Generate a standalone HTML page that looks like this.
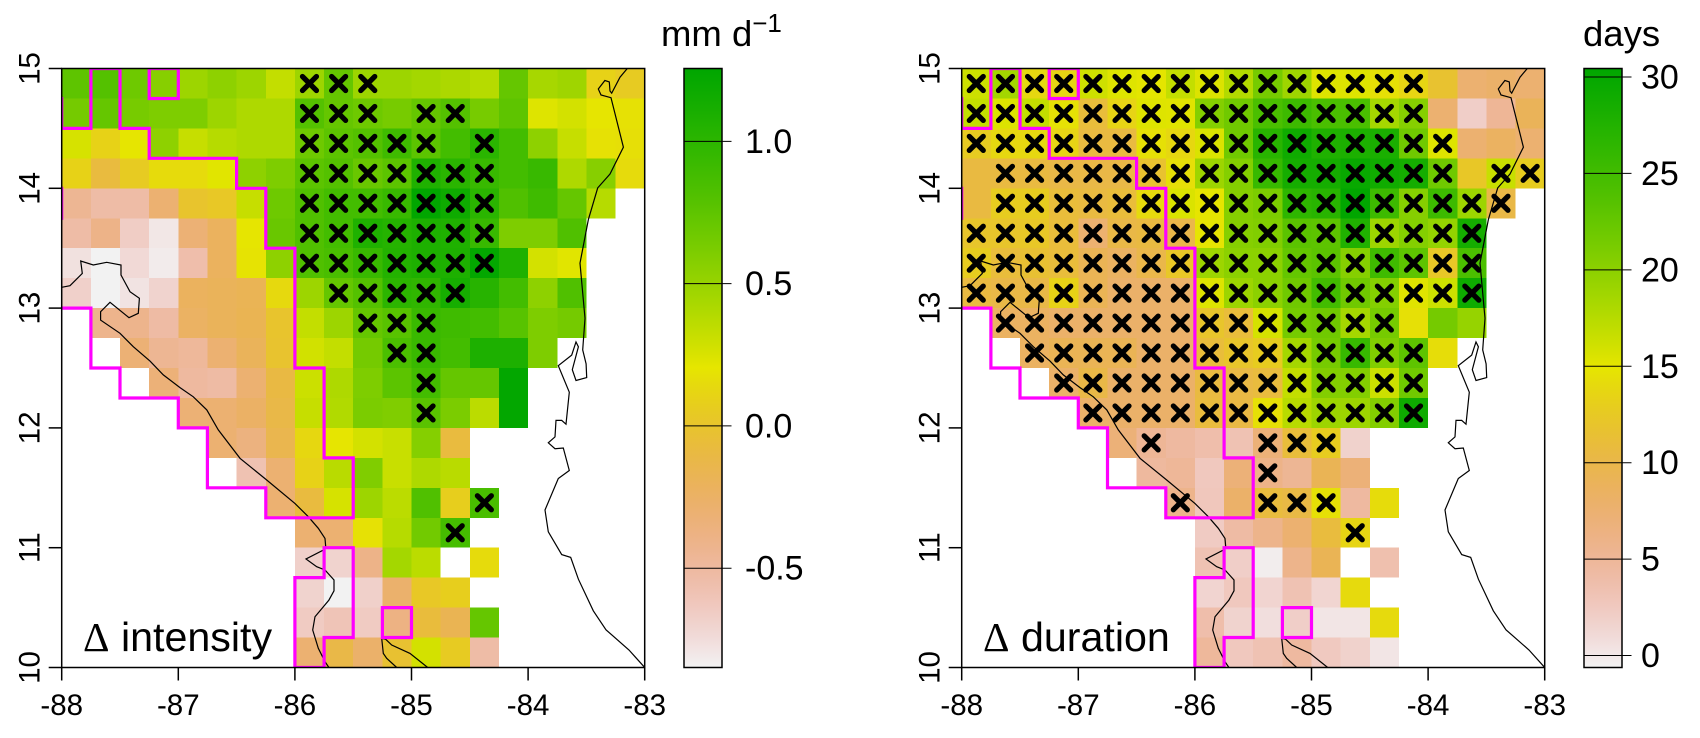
<!DOCTYPE html>
<html lang="en">
<head>
<meta charset="utf-8">
<title>Change in intensity and duration</title>
<style>
html,body{margin:0;padding:0;background:#fff;}
#figure{display:block;width:1700px;height:738px;font-family:"Liberation Sans",Arial,sans-serif;}
</style>
</head>
<body>
<svg id="figure" xmlns="http://www.w3.org/2000/svg" width="1700" height="738" viewBox="0 0 1700 738">
  <defs>
    <clipPath id="clip-left"><rect x="61.7" y="68.5" width="583" height="599"/></clipPath>
    <clipPath id="clip-right"><rect x="961.7" y="68.5" width="583" height="599"/></clipPath>
  </defs>
  <g id="panel-left"></g>
  <g id="panel-right"></g>
  <text x="661" y="46" font-size="36.5" fill="#000">mm d<tspan font-size="26" dy="-14">−1</tspan></text>
  <text x="1583" y="46" font-size="36.5" fill="#000">days</text>
  <text x="83" y="651" font-size="41.2" fill="#000"><tspan font-family="'Liberation Serif',serif">Δ</tspan> intensity</text>
  <text x="983" y="651" font-size="41.2" fill="#000"><tspan font-family="'Liberation Serif',serif">Δ</tspan> duration</text>
</svg>
<script>
const _ = null;
const xTickValues = [-88, -87, -86, -85, -84, -83];
const yTickValues = [10, 11, 12, 13, 14, 15];
const intensityTicks = [-0.5, 0.0, 0.5, 1.0];
const intensityTickLabels = ['-0.5', '0.0', '0.5', '1.0'];
const durationTicks = [0, 5, 10, 15, 20, 25, 30];
const durationTickLabels = ['0', '5', '10', '15', '20', '25', '30'];
const intensityRange = [-0.849, 1.256];
const durationRange = [-0.62, 30.44];
const lonOrigin = -88;
const latOrigin = 15;
const cellDegrees = 0.25;

const intensityValues = [
[.75,.8,.68,.57,.48,.54,.48,.33,.48,.72,.48,.48,.45,.42,.38,.72,.44,.47,.1,.05],
[.65,.72,.64,.61,.61,.48,.41,.41,.8,.72,.68,.64,.72,.8,.64,.75,.23,.27,.2,.18],
[.26,.1,.2,.54,.32,.38,.41,.41,.68,.76,.8,.9,.76,.88,1.01,.88,.54,.32,.18,.17],
[.1,-.08,.05,.15,.15,.22,.54,.61,.76,.8,.7,.76,1.07,1.01,.94,.88,.94,.41,.57,.15],
[-.45,-.53,-.53,-.3,0,.03,.32,.68,.82,.88,.88,.94,1.25,1.17,1.01,.82,.9,.72,.38],
[-.53,-.4,-.66,-.8,-.32,-.22,.2,.7,.82,.88,1.07,1.04,1.08,1.07,.94,.61,.61,.82],
[-.77,-.85,-.73,-.82,-.55,-.22,.19,.54,.82,.85,.94,1.05,1.08,1.08,1.24,1.07,.27,.22],
[-.68,-.85,-.78,-.7,-.22,-.2,-.18,.14,.48,.72,.8,1,.98,1.12,1.03,.88,.54,.82],
[_,-.42,-.42,-.52,-.24,-.2,-.17,0,.33,.48,.72,.78,.93,.9,.88,.78,.61,.65],
[_,_,-.32,-.45,-.48,-.3,-.2,-.01,.28,.33,.65,.84,.93,.88,1.08,1.08,.61],
[_,_,_,-.33,-.5,-.52,-.3,-.1,.3,.41,.61,.76,.88,.72,.72,1.24],
[_,_,_,_,-.32,-.3,-.25,-.12,.32,.4,.62,.6,.77,.62,.36,1.24],
[_,_,_,_,_,-.3,-.36,-.15,.13,.2,.27,.31,.58,-.08],
[_,_,_,_,_,_,-.58,-.3,.1,.37,.6,.31,.41,.37],
[_,_,_,_,_,_,_,-.3,-.08,.26,.48,.36,.82,.07,.85],
[_,_,_,_,_,_,_,_,-.3,-.3,.18,.38,.66,.87],
[_,_,_,_,_,_,_,_,-.68,-.7,-.4,.45,.36,_,.15],
[_,_,_,_,_,_,_,_,-.7,-.85,-.68,-.28,.03,.07],
[_,_,_,_,_,_,_,_,-.65,-.6,-.65,-.38,-.07,-.17,.72],
[_,_,_,_,_,_,_,_,-.3,-.12,-.27,-.02,.27,.05,-.53]
];

const durationValues = [
[16.3,18.6,13.8,13.6,16.2,15.3,15,16.8,15.4,17.7,21.4,18.9,15.3,15.3,14.5,13.6,11.7,7.5,8,7.5],
[16.8,15.4,16.8,14.6,11,13.5,15.3,15.2,20.5,21.8,24.4,25.4,24.4,24.4,18.5,20.4,7.5,2,5.1,9],
[12.7,13.8,13.8,13.5,10.6,10.6,14.5,13.8,15.5,21.8,27,29.1,27.7,28,28.1,21.8,15.3,7.5,8.5,7.5],
[10.6,10.6,10.6,10.2,10.2,10.2,11.7,14.4,19,20.5,25.8,28.6,28.6,29.7,29,28.6,21.8,12.3,16.5,12.8],
[10.6,12.8,12.8,11,10.6,11,14,15.5,14.9,20.4,21,26.5,27,30.3,25.4,20.4,25.4,19,10.2],
[12,12,12.3,11,7.5,10.2,10.6,10,14.8,20.4,20.7,23.2,23.1,27.6,19,20.5,19.5,28.6],
[12.8,11,11.5,11,9.3,8.5,10,12.3,19,20,20,22.6,23.2,20.4,25.2,23,12.3,24.3],
[10.6,10.2,10.2,13.4,9.3,8,8,8,15.3,19,20,21.8,25,21.8,20.5,15.2,16.3,29.2],
[_,8.5,8.5,8,8,8,8,8,12,11,15.8,21.4,21.8,18.5,21.4,14.5,21.5,19.4],
[_,_,8.5,9.3,9.3,9.3,8,8,11,12,12.8,18.5,21.4,25.8,20.7,23,14.3],
[_,_,_,8,10.2,8,8,8,10.6,10.3,10.8,16.8,20.6,20.6,16.3,21.8],
[_,_,_,_,8,8,8,8,10.8,10.4,14.5,17.4,19,19,20.6,29.2],
[_,_,_,_,_,7,5.1,4.5,3.8,3.3,7,11,12.8,1.7],
[_,_,_,_,_,_,4.6,5,2.6,7,6,5.2,9.3,7],
[_,_,_,_,_,_,_,5.8,2.7,8,10.8,10.3,14.5,4.5,14.2],
[_,_,_,_,_,_,_,_,2.3,4.2,5.8,7.5,10.8,13.6],
[_,_,_,_,_,_,_,_,3.3,2,-.3,5.8,9.3,_,3.6],
[_,_,_,_,_,_,_,_,1.5,2.6,1.5,3.3,1.4,14],
[_,_,_,_,_,_,_,_,3.8,1.6,.7,2,.2,.2,14],
[_,_,_,_,_,_,_,_,4.8,2.6,3.3,4.5,2.5,1.7,.2]
];

/* grid column indices, by grid row, where the change is significant */
const intensitySignificant = [
[8,9,10],[8,9,10,12,13],[8,9,10,11,12,14],[8,9,10,11,12,13,14],[8,9,10,11,12,13,14],
[8,9,10,11,12,13,14],[8,9,10,11,12,13,14],[9,10,11,12,13],[10,11,12],[11,12],[12],[12],
[],[],[14],[13],[],[],[],[]
];
const durationSignificant = [
[0,1,2,3,4,5,6,7,8,9,10,11,12,13,14,15],
[0,1,2,3,4,5,6,7,8,9,10,11,12,13,14,15],
[0,1,2,3,4,5,6,7,8,9,10,11,12,13,14,15,16],
[1,2,3,4,5,6,7,8,9,10,11,12,13,14,15,16,18,19],
[1,2,3,4,5,6,7,8,9,10,11,12,13,14,15,16,17,18],
[0,1,2,3,4,5,6,7,8,9,10,11,12,13,14,15,16,17],
[0,1,2,3,4,5,6,7,8,9,10,11,12,13,14,15,16,17],
[0,1,2,3,4,5,6,7,8,9,10,11,12,13,14,15,16,17],
[1,2,3,4,5,6,7,8,9,10,11,12,13,14],
[2,3,4,5,6,7,8,9,10,11,12,13,14,15],
[3,4,5,6,7,8,9,10,11,12,13,14,15],
[4,5,6,7,8,9,10,11,12,13,14,15],
[6,10,11,12],[10],[7,10,11,12],[13],[],[],[],[]
];

const pacificCoast = [[-88,13.174],[-87.929,13.187],[-87.823,13.29],[-87.837,13.393],[-87.729,13.36],[-87.614,13.382],[-87.491,13.36],[-87.491,13.276],[-87.414,13.137],[-87.334,13.082],[-87.343,12.957],[-87.423,12.92],[-87.586,13.048],[-87.666,12.97],[-87.666,12.9],[-87.5,12.79],[-87.386,12.678],[-87.243,12.558],[-87.129,12.442],[-86.985,12.336],[-86.871,12.26],[-86.756,12.15],[-86.657,11.983],[-86.471,11.746],[-86.242,11.565],[-86,11.37],[-85.885,11.259],[-85.799,11.162],[-85.742,11.078],[-85.736,11.008],[-85.756,10.981],[-85.905,10.906],[-85.813,10.841],[-85.742,10.814],[-85.665,10.73],[-85.665,10.64],[-85.708,10.563],[-85.828,10.424],[-85.847,10.313],[-85.799,10.16],[-85.742,10.048],[-85.708,10]];
const peninsulaCoast = [[-85.127,10],[-85.213,10.077],[-85.242,10.118],[-85.256,10.244],[-85.221,10.235],[-85.17,10.188],[-85.013,10.118],[-84.861,10]];
const caribbeanCoast = [[-83.149,15],[-83.212,14.927],[-83.283,14.795],[-83.298,14.812],[-83.304,14.888],[-83.341,14.9],[-83.398,14.829],[-83.375,14.779],[-83.289,14.756],[-83.183,14.343],[-83.298,14.119],[-83.403,14.003],[-83.483,13.74],[-83.555,13.376],[-83.512,12.915],[-83.532,12.651],[-83.503,12.535],[-83.497,12.42],[-83.589,12.396],[-83.621,12.486],[-83.569,12.677],[-83.589,12.717],[-83.626,12.608],[-83.741,12.519],[-83.647,12.298],[-83.675,12.031],[-83.712,12.063],[-83.761,12.063],[-83.769,11.925],[-83.827,11.876],[-83.769,11.826],[-83.698,11.832],[-83.647,11.644],[-83.741,11.578],[-83.855,11.315],[-83.827,11.133],[-83.712,10.942],[-83.635,10.919],[-83.569,10.737],[-83.441,10.473],[-83.332,10.315],[-83.135,10.146],[-83,10]];

const maskOutlineMain = [[-88,14.75],[-88,14.5],[-87.75,14.5],[-87.75,15],[-87.5,15],[-87.5,14.5],[-87.25,14.5],[-87.25,14.25],[-86.5,14.25],[-86.5,14],[-86.25,14],[-86.25,13.5],[-86,13.5],[-86,12.5],[-85.75,12.5],[-85.75,11.75],[-85.5,11.75],[-85.5,11.25],[-86.25,11.25],[-86.25,11.5],[-86.75,11.5],[-86.75,12],[-87,12],[-87,12.25],[-87.5,12.25],[-87.5,12.5],[-87.75,12.5],[-87.75,13],[-88,13]];
const maskOutlineEdge = [[-88,14],[-88,13.75]];
const maskOutlineNorthSquare = [[-87.25,15],[-87,15],[-87,14.75],[-87.25,14.75],[-87.25,15]];
const maskOutlineSouthSquare = [[-85.25,10.5],[-85,10.5],[-85,10.25],[-85.25,10.25],[-85.25,10.5]];
const maskOutlineSouth = [[-86,10.75],[-85.75,10.75],[-85.75,11],[-85.5,11],[-85.5,10.25],[-85.75,10.25],[-85.75,10],[-86,10],[-86,10.75]];

const SVGNS = 'http://www.w3.org/2000/svg';
function el(tag, attrs, parent) {
  const node = document.createElementNS(SVGNS, tag);
  for (const k in attrs) node.setAttribute(k, attrs[k]);
  parent.appendChild(node);
  return node;
}
function hsv(h, s, v) {
  const c = v * s, hp = h / 60, x = c * (1 - Math.abs(hp % 2 - 1)), m = v - c;
  let r = 0, g = 0;
  if (hp < 1) { r = c; g = x; } else { r = x; g = c; }
  const hex = n => Math.round((n + m) * 255).toString(16).padStart(2, '0');
  return '#' + hex(r) + hex(g) + hex(0);
}
function terrain(t) {
  t = Math.max(0, Math.min(1, t));
  if (t >= 0.5) { const f = (t - 0.5) * 2; return hsv(60 + 60 * f, 1, 0.9 - 0.25 * f); }
  const f = (0.5 - t) * 2;
  return hsv(60 - 60 * f, 1 - f, 0.9 + 0.05 * f);
}

function drawPanel(cfg) {
  const g = document.getElementById(cfg.id);
  const W = 583, top = 68.5, H = 599;
  const xScale = lon => cfg.x0 + (lon - (-88)) / 5 * W;
  const yScale = lat => top + (15 - lat) / 5 * H;
  const colorT = v => (v - cfg.range[0]) / (cfg.range[1] - cfg.range[0]);
  const barScale = v => top + (cfg.range[1] - v) / (cfg.range[1] - cfg.range[0]) * H;

  cfg.values.forEach((row, r) => row.forEach((v, c) => {
    if (v === null) return;
    const lonL = lonOrigin + c * cellDegrees, lonR = lonL + cellDegrees;
    const latT = latOrigin - r * cellDegrees, latB = latT - cellDegrees;
    const cell = el('rect', {x: xScale(lonL), y: yScale(latT), width: xScale(lonR) - xScale(lonL), height: yScale(latB) - yScale(latT), fill: terrain(colorT(v)), 'shape-rendering': 'crispEdges'}, g);
    
    
  }));

  const toPoints = pts => pts.map(p => xScale(p[0]).toFixed(1) + ',' + yScale(p[1]).toFixed(1)).join(' ');
  const clip = 'url(#' + cfg.clip + ')';

  [pacificCoast, peninsulaCoast, caribbeanCoast].forEach(coast => {
    const line = el('polyline', {points: toPoints(coast), fill: 'none', stroke: '#000', 'stroke-width': 1.2, 'clip-path': clip}, g);
    
    
  });

  [maskOutlineMain, maskOutlineEdge, maskOutlineNorthSquare, maskOutlineSouthSquare, maskOutlineSouth].forEach(outline => {
    const line = el('polyline', {points: toPoints(outline), fill: 'none', stroke: '#ff00ff', 'stroke-width': 3.2, 'stroke-linejoin': 'miter', 'stroke-linecap': 'square', 'clip-path': clip}, g);
    
    
  });

  cfg.sig.forEach((cols, r) => cols.forEach(c => {
    const cx = xScale(lonOrigin + (c + 0.5) * cellDegrees), cy = yScale(latOrigin - (r + 0.5) * cellDegrees), a = 7;
    const mark = el('path', {d: `M${cx - a} ${cy - a}L${cx + a} ${cy + a}M${cx - a} ${cy + a}L${cx + a} ${cy - a}`, stroke: '#000', 'stroke-width': 5.2, 'stroke-linecap': 'round', fill: 'none'}, g);
    
    
  }));

  const frame = el('rect', {x: cfg.x0, y: top, width: W, height: H, fill: 'none', stroke: '#000', 'stroke-width': 1.5}, g);
  
  

  xTickValues.forEach(v => {
    const x = xScale(v);
    const tick = el('line', {x1: x, x2: x, y1: top + H, y2: top + H + 13, stroke: '#000', 'stroke-width': 1.5}, g);
    
    
    const label = el('text', {x: x, y: 715, 'font-size': 29.5, 'text-anchor': 'middle', fill: '#000'}, g);
    label.textContent = String(v);
    
    
  });
  yTickValues.forEach(v => {
    const y = yScale(v);
    const tick = el('line', {x1: cfg.x0 - 13, x2: cfg.x0, y1: y, y2: y, stroke: '#000', 'stroke-width': 1.5}, g);
    
    
    const bx = cfg.x0 - 22.4;
    const label = el('text', {x: bx, y: y, 'font-size': 29.5, 'text-anchor': 'middle', fill: '#000', transform: `rotate(-90 ${bx} ${y})`}, g);
    label.textContent = String(v);
    
    
  });

  /* colour bar */
  const grad = el('linearGradient', {id: cfg.id + '-grad', x1: 0, y1: 1, x2: 0, y2: 0}, g);
  for (let i = 0; i <= 40; i++) el('stop', {offset: i / 40, 'stop-color': terrain(i / 40)}, grad);
  const bar = el('rect', {x: cfg.barX0, y: top, width: cfg.barX1 - cfg.barX0, height: H, fill: `url(#${cfg.id}-grad)`}, g);
  
  
  const barFrame = el('rect', {x: cfg.barX0, y: top, width: cfg.barX1 - cfg.barX0, height: H, fill: 'none', stroke: '#000', 'stroke-width': 1.5}, g);
  
  
  cfg.ticks.forEach((v, i) => {
    const y = barScale(v);
    const tick = el('line', {x1: cfg.barX0, x2: cfg.barX1 + 9.5, y1: y, y2: y, stroke: '#000', 'stroke-width': 1}, g);
    
    
    const label = el('text', {x: cfg.labelX, y: y + 11.5, 'font-size': 34, fill: '#000'}, g);
    label.textContent = cfg.tickLabels[i];
    
    
  });
}

drawPanel({id: 'panel-left', clip: 'clip-left', x0: 61.7, values: intensityValues, sig: intensitySignificant, range: intensityRange, ticks: intensityTicks, tickLabels: intensityTickLabels, barX0: 684, barX1: 722, labelX: 745});
drawPanel({id: 'panel-right', clip: 'clip-right', x0: 961.7, values: durationValues, sig: durationSignificant, range: durationRange, ticks: durationTicks, tickLabels: durationTickLabels, barX0: 1584, barX1: 1622, labelX: 1641});
</script>
</body>
</html>
